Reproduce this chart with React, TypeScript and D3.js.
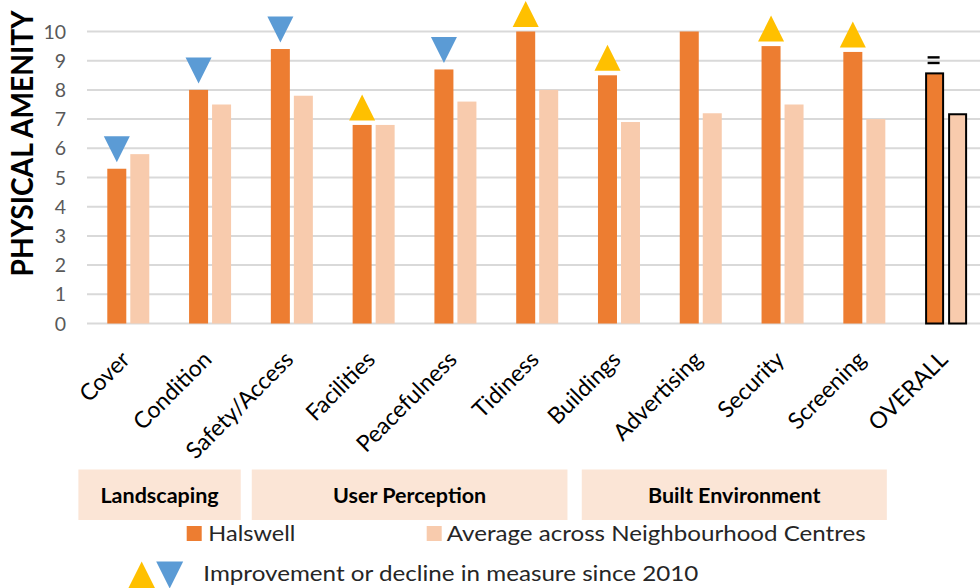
import React from "react";
import * as d3 from "d3";

const categories = ["Cover", "Condition", "Safety/Access", "Facilities", "Peacefulness", "Tidiness", "Buildings", "Advertising", "Security", "Screening", "OVERALL"];
const halswell = [5.3, 8.0, 9.4, 6.8, 8.7, 10.0, 8.5, 10.0, 9.5, 9.3, 8.6];
const average = [5.8, 7.5, 7.8, 6.8, 7.6, 8.0, 6.9, 7.2, 7.5, 7.0, 7.2];
const trend = ["down", "down", "down", "up", "down", "up", "up", "none", "up", "up", "equal"];
const yTicks = [0, 1, 2, 3, 4, 5, 6, 7, 8, 9, 10];
const groups = ["Landscaping", "User Perception", "Built Environment"];
const groupSpans = [[-0.11, 1.875], [2.01, 5.87], [6.045, 9.775]];
const seriesNames = ["Halswell", "Average across Neighbourhood Centres"];
const trendNote = "Improvement or decline in measure since 2010";

const W = 980, H = 588;
const ORANGE = "#ED7D31", PEACH = "#F8CBAD", BLUE = "#5B9BD5", GOLD = "#FFC000";
const FONT = "Lato, 'Open Sans', sans-serif";

export default function App() {
  const x = d3.scaleBand<string>().domain(categories).range([87.4, 987]).padding(0);
  const y = d3.scaleLinear().domain([0, 10]).range([323.5, 31.5]);
  const step = x.step();
  const unit = d3.scaleLinear().domain([0, 1]).range([87.4, 87.4 + step]);
  const bw = 19;
  const cx = (c: string) => (x(c) as number) + step / 2;
  const tri = (mx: number, yBase: number, up: boolean, w = 26, h = 26) =>
    up
      ? `M${mx - w / 2},${yBase} L${mx + w / 2},${yBase} L${mx},${yBase - h} Z`
      : `M${mx - w / 2},${yBase - h} L${mx + w / 2},${yBase - h} L${mx},${yBase} Z`;

  return (
    <svg width={W} height={H} style={{ position: "absolute", left: 0, top: 0, background: "#fff" }} fontFamily={FONT}>
      {/* gridlines */}
      {yTicks.map((t) => (
        <line key={"g" + t} x1={87} x2={W} y1={y(t)} y2={y(t)} stroke="#D9D9D9" strokeWidth={2} />
      ))}
      {/* tick labels */}
      {yTicks.map((t) => (
        <text key={"t" + t} x={66} y={y(t)} dy="0.36em" textAnchor="end" fontSize={19.5} fill="#595959">{t}</text>
      ))}
      {/* y title */}
      <text transform={`translate(32.5,143.5) rotate(-90)`} textAnchor="middle" fontSize={30} fontWeight="bold" fill="#000" textLength={266} lengthAdjust="spacingAndGlyphs">PHYSICAL AMENITY</text>

      {/* bars */}
      {categories.map((c, i) => {
        const m = cx(c);
        const last = c === "OVERALL";
        const hx = m - 21, ax = m + 2;
        return (
          <g key={"b" + c}>
            {last ? (
              <>
                <rect x={hx + 1} y={y(halswell[i]) + 1} width={bw - 2} height={y(0) - y(halswell[i]) - 1} fill={ORANGE} stroke="#000" strokeWidth={2} />
                <rect x={ax + 1} y={y(average[i]) + 1} width={bw - 2} height={y(0) - y(average[i]) - 1} fill={PEACH} stroke="#000" strokeWidth={2} />
              </>
            ) : (
              <>
                <rect x={hx} y={y(halswell[i])} width={bw} height={y(0) - y(halswell[i])} fill={ORANGE} />
                <rect x={ax} y={y(average[i])} width={bw} height={y(0) - y(average[i])} fill={PEACH} />
              </>
            )}
          </g>
        );
      })}
      {/* trend markers */}
      {categories.map((c, i) => {
        const mx = cx(c) - 11.5;
        const top = y(halswell[i]);
        if (trend[i] === "up") return <path key={"m" + c} d={tri(mx, top - 4.5, true)} fill={GOLD} />;
        if (trend[i] === "down") return <path key={"m" + c} d={tri(mx, top - 6.5, false)} fill={BLUE} />;
        if (trend[i] === "equal")
          return (
            <g key={"m" + c} stroke="#000" strokeWidth={2.4}>
              <line x1={mx - 7} x2={mx + 5} y1={top - 15} y2={top - 15} />
              <line x1={mx - 7} x2={mx + 5} y1={top - 9.4} y2={top - 9.4} />
            </g>
          );
        return null;
      })}
      {/* x labels */}
      {categories.map((c) => (
        <text key={"x" + c} transform={`translate(${cx(c) + 3},${361}) rotate(-45)`} textAnchor="end" fontSize={23} fill="#000">{c}</text>
      ))}
      {/* group boxes */}
      {groups.map((g, i) => {
        const x0 = unit(groupSpans[i][0]), x1 = unit(groupSpans[i][1]);
        return (
          <g key={"grp" + g}>
            <rect x={x0} y={469.5} width={x1 - x0} height={50.5} fill="#FBE5D6" />
            <text x={(x0 + x1) / 2} y={502.5} textAnchor="middle" fontSize={21.5} fontWeight="bold" fill="#000">{g}</text>
          </g>
        );
      })}
      {/* legend */}
      <rect x={186.7} y={526} width={15} height={15} fill={ORANGE} />
      <text x={208.3} y={540.5} fontSize={22} fill="#262626" textLength={87} lengthAdjust="spacingAndGlyphs">{seriesNames[0]}</text>
      <rect x={426.7} y={526} width={15} height={15} fill={PEACH} />
      <text x={446.7} y={540.5} fontSize={22} fill="#262626" textLength={419} lengthAdjust="spacingAndGlyphs">{seriesNames[1]}</text>
      <path d={tri(141.7, 588.5, true, 27, 27)} fill={GOLD} />
      <path d={tri(169.7, 588.5, false, 27, 27)} fill={BLUE} />
      <text x={203.3} y={580.5} fontSize={22} fill="#262626" textLength={495} lengthAdjust="spacingAndGlyphs">{trendNote}</text>
    </svg>
  );
}
